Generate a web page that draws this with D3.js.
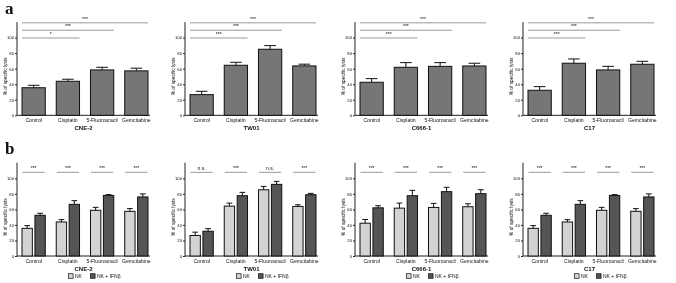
<!DOCTYPE html>
<html>
<head>
<meta charset="utf-8">
<script src="https://cdn.jsdelivr.net/npm/d3@7"></script>
<style>
  body { margin: 0; background: #fff; }
  svg { filter: grayscale(1); }
  svg text { font-family: "Liberation Sans", Arial, sans-serif; fill: #111; }
</style>
</head>
<body>
<div id="chart"></div>
<script>
// ---- data ----
let drugs = ["Control", "Cisplatin", "5-Fluorouracil", "Gemcitabine"];
let cellLines = ["CNE-2", "TW01", "C666-1", "C17"];

// panel a: % specific lysis (NK alone), mean and SEM
let aMeans = [
    [35.5, 43.8, 58.4, 57.2],
    [26.6, 64.4, 85.0, 63.6],
    [42.5, 61.8, 63.0, 63.5],
    [32.2, 67.0, 58.4, 65.7]
];
let aErrs = [
    [3.1, 2.6, 3.4, 3.4],
    [4.3, 3.8, 4.7, 2.2],
    [4.7, 6.0, 4.8, 3.5],
    [4.7, 5.5, 4.6, 3.8]
];
// significance vs Control (Cisplatin, 5-FU, Gemcitabine)
let aSig = [
    ["*", "***", "***"],
    ["***", "***", "***"],
    ["***", "***", "***"],
    ["***", "***", "***"]
];

// panel b: NK vs NK + IFNβ
let series = ["NK", "NK + IFNβ"];
let nkMeans = [
    [35.6, 43.8, 58.8, 57.5],
    [26.4, 64.2, 85.2, 63.8],
    [42.2, 61.6, 62.5, 63.4],
    [35.6, 43.8, 58.8, 57.5]
];
let nkErrs = [
    [3.5, 3.0, 3.8, 3.5],
    [4.3, 3.9, 4.4, 2.1],
    [4.8, 6.5, 5.2, 3.8],
    [3.5, 3.0, 3.8, 3.5]
];
let ifnMeans = [
    [52.4, 66.5, 78.0, 76.0],
    [31.9, 77.6, 92.2, 78.9],
    [62.0, 77.6, 82.8, 80.2],
    [52.4, 66.5, 78.0, 76.0]
];
let ifnErrs = [
    [2.6, 4.7, 1.0, 3.9],
    [3.4, 4.3, 3.9, 1.7],
    [2.7, 6.9, 5.6, 5.1],
    [2.6, 4.7, 1.0, 3.9]
];
let bSig = [
    ["***", "***", "***", "***"],
    ["n.s.", "***", "n.s.", "***"],
    ["***", "***", "***", "***"],
    ["***", "***", "***", "***"]
];
let yTicks = [0, 20, 40, 60, 80, 100];

// ---- layout ----
let W = 676, H = 283;
let panelX = [17, 185, 355, 523];
let axisLen = 133;
let rowY0 = [115.3, 256];
let pxPerUnit = 0.777;

let svg = d3.select("#chart").append("svg")
    .attr("width", W)
    .attr("height", H);

svg.append("text").attr("x", 5).attr("y", 14)
    .style("font-family", "'Liberation Serif', serif")
    .style("font-weight", "bold").style("font-size", "17px")
    .text("a");
svg.append("text").attr("x", 5).attr("y", 154)
    .style("font-family", "'Liberation Serif', serif")
    .style("font-weight", "bold").style("font-size", "17px")
    .text("b");

function drawFrame(g, x, y, cell, y0) {
    // y axis
    let yAxis = d3.axisLeft(y).tickValues(yTicks).tickSize(2).tickPadding(1);
    let ya = g.append("g")
        .attr("transform", "translate(" + panelX[cell] + ",0)")
        .call(yAxis);
    ya.select(".domain").attr("d", "M0," + y(120) + "V" + y(0)).attr("stroke", "#222");
    ya.selectAll("text").style("font-size", "4.2px");
    ya.selectAll("line").attr("stroke", "#222");

    // x axis
    let xAxis = d3.axisBottom(x).tickSize(0).tickPadding(3);
    let xa = g.append("g")
        .attr("transform", "translate(0," + y0 + ")")
        .call(xAxis);
    xa.select(".domain").attr("d", "M" + panelX[cell] + ",0H" + (panelX[cell] + axisLen)).attr("stroke", "#222");
    xa.selectAll("text").style("font-size", "5.1px");

    g.append("text")
        .attr("transform", "translate(" + (panelX[cell] - 10.5) + "," + y(50) + ") rotate(-90)")
        .attr("text-anchor", "middle")
        .style("font-size", "4.8px")
        .text("% of specific lysis");

    g.append("text")
        .attr("x", panelX[cell] + axisLen / 2)
        .attr("y", y0 + 14.5)
        .attr("text-anchor", "middle")
        .style("font-size", "6px").style("font-weight", "bold")
        .text(cellLines[cell]);
}

function errBar(g, cx, yTop, yBase, capW) {
    g.append("line").attr("x1", cx).attr("x2", cx)
        .attr("y1", yBase).attr("y2", yTop)
        .attr("stroke", "#111").attr("stroke-width", 1);
    g.append("line").attr("x1", cx - capW / 2).attr("x2", cx + capW / 2)
        .attr("y1", yTop).attr("y2", yTop)
        .attr("stroke", "#111").attr("stroke-width", 1);
}

function sigLine(g, x1, x2, yy, label) {
    g.append("line").attr("x1", x1).attr("x2", x2)
        .attr("y1", yy).attr("y2", yy)
        .attr("stroke", "#9a9a9a").attr("stroke-width", 1);
    g.append("text").attr("x", (x1 + x2) / 2).attr("y", yy - 2)
        .attr("text-anchor", "middle")
        .style("font-size", "5px")
        .text(label);
}

// ---- row a ----
cellLines.forEach(function(c, i) {
    let y0 = rowY0[0];
    let x = d3.scaleBand().domain(drugs)
        .range([panelX[i] + 5, panelX[i] + 131])
        .paddingInner(0.32).paddingOuter(0);
    let y = d3.scaleLinear().domain([0, 120]).range([y0, y0 - 120 * pxPerUnit]);
    let g = svg.append("g");

    drawFrame(g, x, y, i, y0);

    drugs.forEach(function(d, j) {
        g.append("rect")
            .attr("x", x(d)).attr("y", y(aMeans[i][j]))
            .attr("width", x.bandwidth())
            .attr("height", y(0) - y(aMeans[i][j]))
            .attr("fill", "#767676").attr("stroke", "#111").attr("stroke-width", 1);
        errBar(g, x(d) + x.bandwidth() / 2, y(aMeans[i][j] + aErrs[i][j]), y(aMeans[i][j]), x.bandwidth() * 0.5);
    });

    let levels = [99.5, 109.5, 119];
    aSig[i].forEach(function(lab, k) {
        let target = drugs[k + 1];
        sigLine(g, x(drugs[0]), x(target) + x.bandwidth(), y(levels[k]), lab);
    });
});

// ---- row b ----
cellLines.forEach(function(c, i) {
    let y0 = rowY0[1];
    let x = d3.scaleBand().domain(drugs)
        .range([panelX[i] + 5, panelX[i] + 131])
        .paddingInner(0.32).paddingOuter(0);
    let xs = d3.scaleBand().domain(series)
        .range([0, x.bandwidth()])
        .paddingInner(0.2);
    let y = d3.scaleLinear().domain([0, 120]).range([y0, y0 - 120 * pxPerUnit]);
    let g = svg.append("g");

    drawFrame(g, x, y, i, y0);

    drugs.forEach(function(d, j) {
        let vals = [[nkMeans[i][j], nkErrs[i][j]], [ifnMeans[i][j], ifnErrs[i][j]]];
        let fills = ["#d3d3d3", "#555555"];
        series.forEach(function(s, k) {
            let bx = x(d) + xs(s);
            g.append("rect")
                .attr("x", bx).attr("y", y(vals[k][0]))
                .attr("width", xs.bandwidth())
                .attr("height", y(0) - y(vals[k][0]))
                .attr("fill", fills[k]).attr("stroke", "#111").attr("stroke-width", 1);
            errBar(g, bx + xs.bandwidth() / 2, y(vals[k][0] + vals[k][1]), y(vals[k][0]), xs.bandwidth() * 0.55);
        });
        sigLine(g, x(d) + 0.5, x(d) + x.bandwidth() - 0.5, y(107.7), bSig[i][j]);
    });

    // legend
    let lg = g.append("g").attr("transform", "translate(" + (panelX[i] + 51.5) + "," + (y0 + 20) + ")");
    let lx = [0, 22];
    let fills = ["#d3d3d3", "#555555"];
    series.forEach(function(s, k) {
        lg.append("rect").attr("x", lx[k]).attr("y", -2.3)
            .attr("width", 4.6).attr("height", 4.6)
            .attr("fill", fills[k]).attr("stroke", "#111").attr("stroke-width", 0.7);
        lg.append("text").attr("x", lx[k] + 6.5).attr("y", 1.8)
            .style("font-size", "5px")
            .text(s);
    });
});
</script>
</body>
</html>
